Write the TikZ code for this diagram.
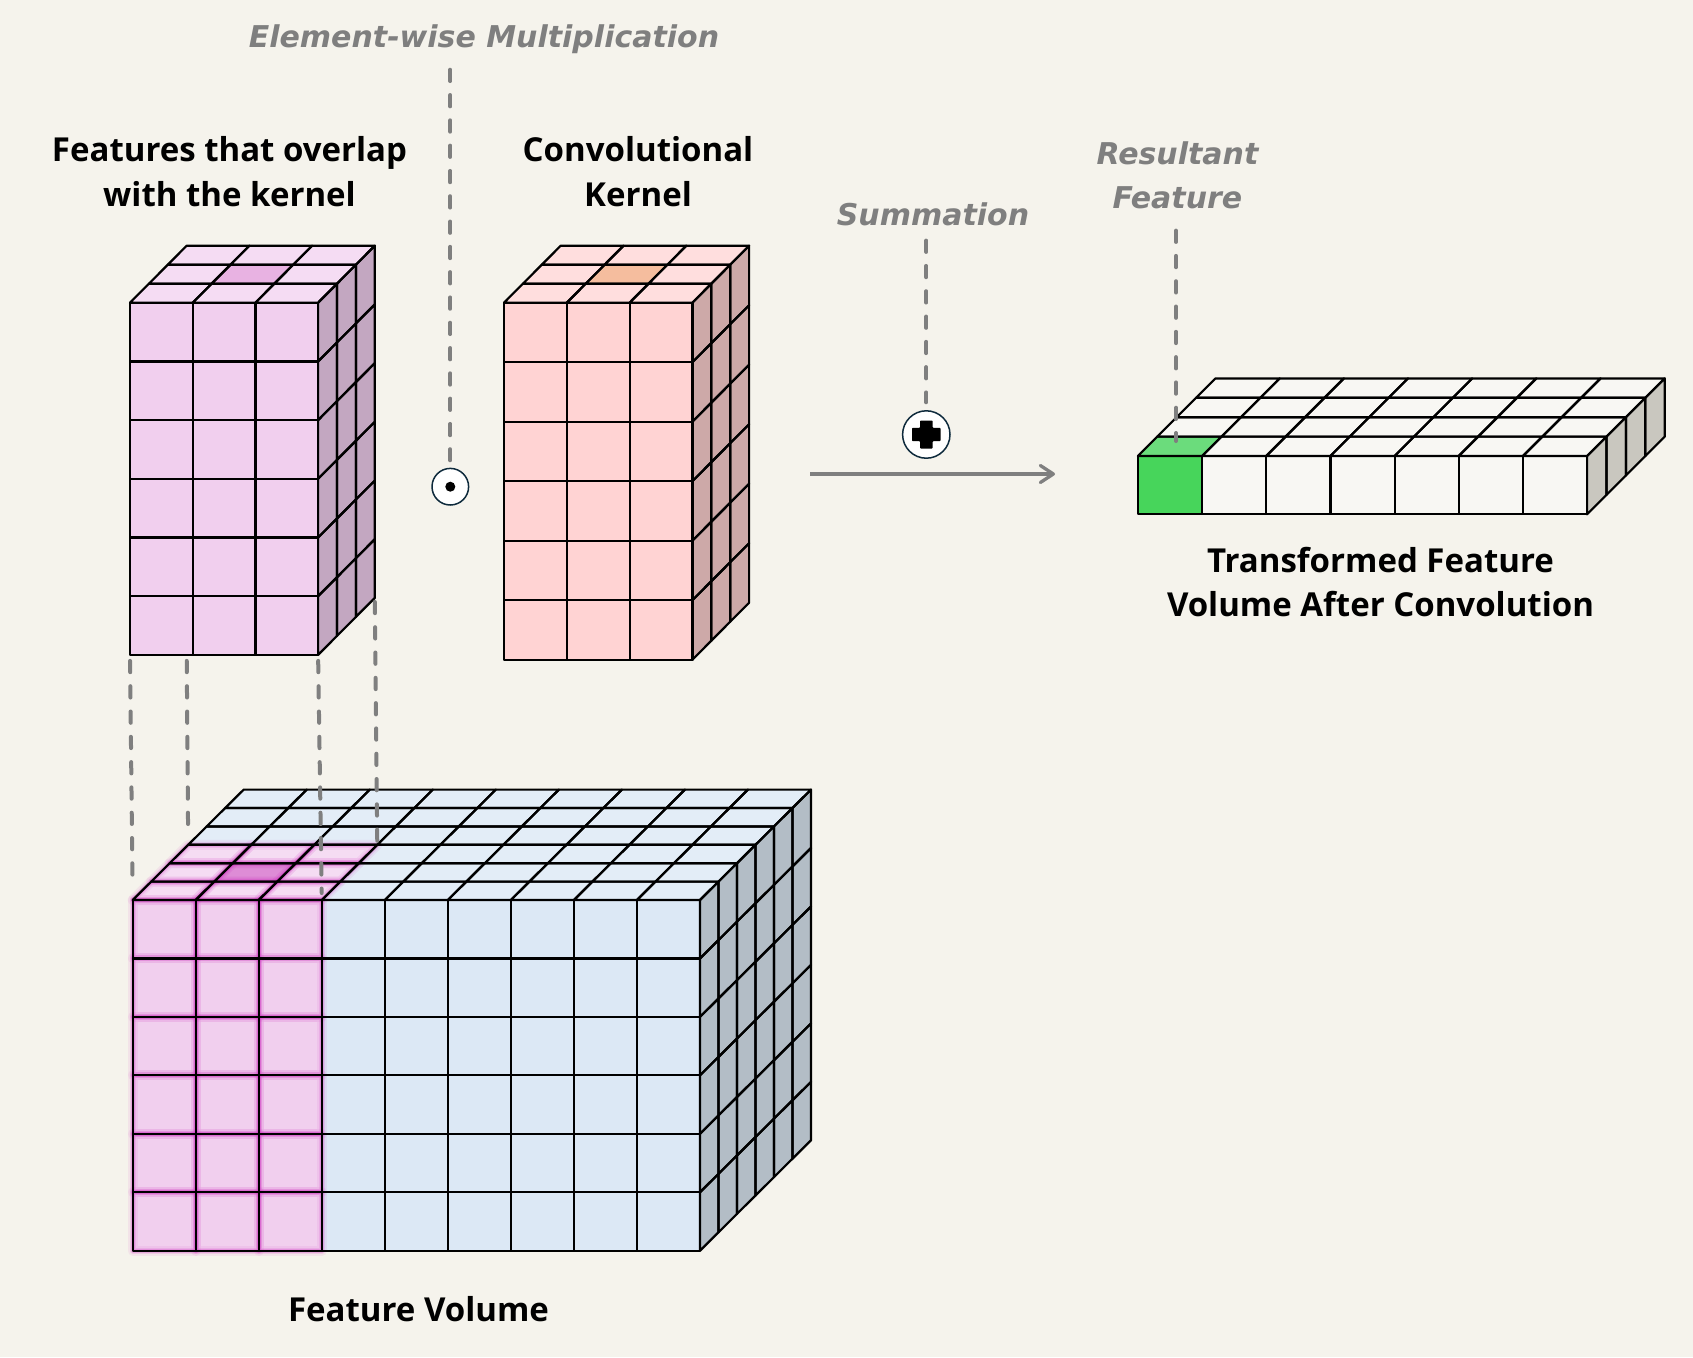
\documentclass[tikz,border=0pt]{standalone}
\usepackage{fontspec}
\newfontfamily\titlefont{Open Sans}
\newfontfamily\labelfont{DejaVu Sans}
\usetikzlibrary{arrows.meta}
\definecolor{bg}{HTML}{F5F3EC}
\definecolor{pinkF}{HTML}{F1CFEE}
\definecolor{pinkT}{HTML}{F5DCF3}
\definecolor{pinkS}{HTML}{C3A7C1}
\definecolor{pinkH}{HTML}{E8B2E2}
\definecolor{pinkHV}{HTML}{DE8CD6}
\definecolor{glowc}{HTML}{D030C0}
\definecolor{kerF}{HTML}{FFD3D3}
\definecolor{kerT}{HTML}{FFDEDE}
\definecolor{kerS}{HTML}{CDA9A8}
\definecolor{kerH}{HTML}{F5BD9E}
\definecolor{blueF}{HTML}{DCE8F5}
\definecolor{blueT}{HTML}{E3EDF7}
\definecolor{blueS}{HTML}{B3BDC6}
\definecolor{resF}{HTML}{F8F7F3}
\definecolor{resS}{HTML}{C9C7BF}
\definecolor{greenF}{HTML}{47D55B}
\definecolor{greenT}{HTML}{6BDC7C}
\definecolor{gline}{HTML}{7F7F7F}
\definecolor{navy}{HTML}{0E2A3C}
\tikzset{
  cellline/.style={draw=black, line width=2.2pt, line join=round},
  glowA/.style={draw=glowc, line width=10pt, opacity=0.08, line join=round},
  glowB/.style={draw=glowc, line width=6pt, opacity=0.14, line join=round},
  glowC/.style={draw=glowc, line width=3.6pt, opacity=0.22, line join=round},
  title/.style={font=\titlefont\bfseries\fontsize{33}{44.3}\selectfont, align=center, anchor=base, inner sep=0pt},
  glabel/.style={font=\labelfont\bfseries\itshape\fontsize{30}{43.4}\selectfont, text=gline, align=center, anchor=base, inner sep=0pt},
  guide/.style={draw=gline, line width=4pt, line cap=round, dash pattern=on 11.3pt off 14pt},
  garrow/.style={draw=gline, line width=3.3pt, -{Straight Barb[length=13pt,width=17pt,round]}},
  opcircle/.style={circle, draw=navy, line width=1.5pt, fill=white, inner sep=0pt},
}
\newcommand\SetVol[9]{\def\vX{#1}\def\vY{#2}\def\vCW{#3}\def\vRH{#4}\def\vNC{#5}\def\vNR{#6}\def\vND{#7}\def\vDX{#8}\def\vDY{#9}}
\newcommand\TopCell[3]{\path[#3]
 ({\vX+(#1)*\vCW+(#2)*\vDX},{\vY+(#2)*(\vDY)}) --
 ({\vX+(#1+1)*\vCW+(#2)*\vDX},{\vY+(#2)*(\vDY)}) --
 ({\vX+(#1+1)*\vCW+(#2+1)*\vDX},{\vY+(#2+1)*(\vDY)}) --
 ({\vX+(#1)*\vCW+(#2+1)*\vDX},{\vY+(#2+1)*(\vDY)}) -- cycle;}
\newcommand\SideCell[3]{\path[#3]
 ({\vX+\vNC*\vCW+(#1)*\vDX},{\vY+(#2)*\vRH+(#1)*(\vDY)}) --
 ({\vX+\vNC*\vCW+(#1+1)*\vDX},{\vY+(#2)*\vRH+(#1+1)*(\vDY)}) --
 ({\vX+\vNC*\vCW+(#1+1)*\vDX},{\vY+(#2+1)*\vRH+(#1+1)*(\vDY)}) --
 ({\vX+\vNC*\vCW+(#1)*\vDX},{\vY+(#2+1)*\vRH+(#1)*(\vDY)}) -- cycle;}
\newcommand\FrontCell[3]{\path[#3] ({\vX+(#1)*\vCW},{\vY+(#2)*\vRH}) rectangle ({\vX+(#1+1)*\vCW},{\vY+(#2+1)*\vRH});}
\newcommand\VolFaces[3]{%
 \pgfmathtruncatemacro\vNCm{\vNC-1}\pgfmathtruncatemacro\vNRm{\vNR-1}\pgfmathtruncatemacro\vNDm{\vND-1}%
 \foreach \k in {0,...,\vNDm}{\foreach \i in {0,...,\vNCm}{\TopCell{\i}{\k}{#2}}}%
 \foreach \k in {0,...,\vNDm}{\foreach \j in {0,...,\vNRm}{\SideCell{\k}{\j}{#3}}}%
 \foreach \i in {0,...,\vNCm}{\foreach \j in {0,...,\vNRm}{\FrontCell{\i}{\j}{#1}}}%
}
\newcommand\VolFill[3]{\VolFaces{fill=#1}{fill=#2}{fill=#3}}
\newcommand\VolLines{\VolFaces{cellline}{cellline}{cellline}}
\newcommand\PinkGlow[1]{%
 \foreach \k in {0,1,2}{\foreach \i in {0,1,2}{\TopCell{\i}{\k}{#1}}}%
 \foreach \i in {0,1,2}{\foreach \j in {0,...,5}{\FrontCell{\i}{\j}{#1}}}%
}

\begin{document}
\begin{tikzpicture}[x=1pt,y=-1pt]
\fill[bg] (0,0) rectangle (1693,1357);
\useasboundingbox (0,0) rectangle (1693,1357);

% ---------- features that overlap with the kernel ----------
\SetVol{130}{302.7}{62.7}{58.7}{3}{6}{3}{18.9}{-19}
\VolFill{pinkF}{pinkT}{pinkS}
\TopCell{1}{1}{fill=pinkH}
\VolLines
\coordinate (fb-fbl) at (130,654.9);
\coordinate (fb-hbl) at (186.7,654.9);
\coordinate (fb-fbr) at (318.1,654.9);
\coordinate (fb-bbr) at (374.8,597.9);

% ---------- convolutional kernel ----------
\SetVol{504}{302.7}{62.8}{59.5}{3}{6}{3}{18.9}{-19}
\VolFill{kerF}{kerT}{kerS}
\TopCell{1}{1}{fill=kerH}
\VolLines

% ---------- feature volume ----------
\SetVol{132.7}{900}{63.03}{58.45}{9}{6}{6}{18.5}{-18.4}
\VolFill{blueF}{blueT}{blueS}
\foreach \k in {0,1,2}{\foreach \i in {0,1,2}{\TopCell{\i}{\k}{fill=pinkT}}}
\TopCell{1}{1}{fill=pinkHV}
\foreach \i in {0,1,2}{\foreach \j in {0,...,5}{\FrontCell{\i}{\j}{fill=pinkF}}}
\PinkGlow{glowA}
\PinkGlow{glowB}
\PinkGlow{glowC}
\VolLines
\coordinate (fv-pfl) at (132.7,900);
\coordinate (fv-pbl) at (188.2,844.8);
\coordinate (fv-pfr) at (321.8,900);
\coordinate (fv-pbr) at (377.3,844.8);

% ---------- transformed feature volume ----------
\SetVol{1137.9}{456}{64.17}{58.3}{7}{1}{4}{19.4}{-19.4}
\VolFill{resF}{resF}{resS}
\TopCell{0}{0}{fill=greenT}
\FrontCell{0}{0}{fill=greenF}
\VolLines
\coordinate (greentop) at (1176,447);

% ---------- operators ----------
\node[opcircle, minimum size=36.6pt] (odot) at (450.3,486.7) {};
\fill[black] (odot.center) circle[radius=5pt];
\node[opcircle, minimum size=47.4pt] (oplus) at (926.3,434.5) {};
\fill[black, rounded corners=0.8pt] ([shift={(-14.3,-6.6)}]oplus.center) -- ([shift={(-6.3,-6.6)}]oplus.center) -- ([shift={(-6.3,-14)}]oplus.center) -- ([shift={(6.3,-14)}]oplus.center) -- ([shift={(6.3,-6.6)}]oplus.center) -- ([shift={(14.3,-6.6)}]oplus.center) -- ([shift={(14.3,6.6)}]oplus.center) -- ([shift={(6.3,6.6)}]oplus.center) -- ([shift={(6.3,14)}]oplus.center) -- ([shift={(-6.3,14)}]oplus.center) -- ([shift={(-6.3,6.6)}]oplus.center) -- ([shift={(-14.3,6.6)}]oplus.center) -- cycle;

\coordinate (arrS) at (810,474);
\coordinate (arrE) at (1055,474);
\draw[garrow] (arrS) -- (arrE);

% ---------- labels (base anchor = baseline of the last line) ----------
\node[glabel] (mult) at (484,47.3) {Element-wise Multiplication};
\node[title] (ftitle) at (229.5,206) {Features that overlap\\with the kernel};
\node[title] (ktitle) at (638,206) {Convolutional\\Kernel};
\node[glabel] (sumlbl) at (933,225) {Summation};
\node[glabel] (reslbl) at (1177.5,208.3) {Resultant\\Feature};
\node[title] (ttitle) at (1380.5,616.7) {Transformed Feature\\Volume After Convolution};
\node[title] (vtitle) at (418.5,1321.7) {Feature Volume};

% ---------- guides ----------
\draw[guide, shorten <=16pt, shorten >=7.4pt] (odot.north |- mult.south) -- (odot.north);
\draw[guide, shorten <=15pt, shorten >=7.8pt] (oplus.north |- sumlbl.south) -- (oplus.north);
\draw[guide, shorten <=21.7pt, shorten >=6pt] (greentop |- reslbl.south) -- (greentop);
\draw[guide, shorten <=6pt, shorten >=12pt] (fb-fbl) -- (fv-pfl);
\draw[guide, shorten <=6pt, shorten >=14pt] (fb-hbl) -- (fv-pbl);
\draw[guide, shorten <=6pt, shorten >=7pt] (fb-fbr) -- (fv-pfr);
\draw[guide, shorten <=4pt, shorten >=4pt] (fb-bbr) -- (fv-pbr);
\end{tikzpicture}
\end{document}
